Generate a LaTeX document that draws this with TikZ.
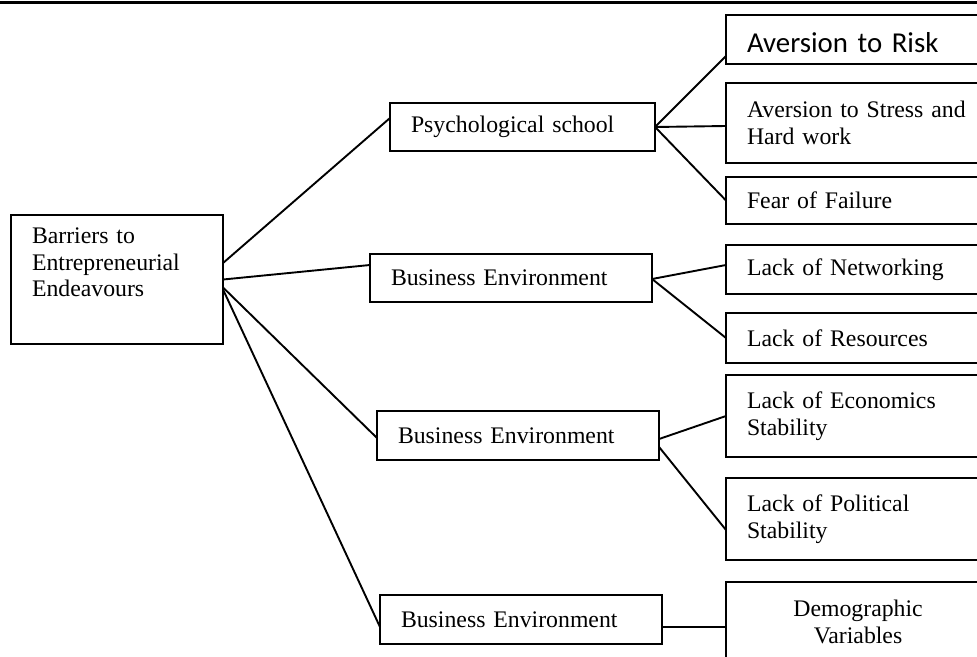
\documentclass[tikz,border=0pt]{standalone}
\usepackage{fontspec}
\setmainfont{Liberation Serif}
\newfontfamily\riskfont{Carlito}

\begin{document}
\begin{tikzpicture}[x=0.025cm, y=0.025cm, line width=1.35pt,
    box/.style={draw, rectangle, anchor=north west, align=left, inner xsep=0.525cm, inner ysep=0pt, outer sep=0pt, font=\fontsize{16.9pt}{19pt}\selectfont},
    leftbox/.style={box, text width=4.25cm},
    midbox/.style={box, text width=6cm, minimum height=1.2cm},
    rightbox/.style={box, text width=5.55cm}]

\clip (0,0) rectangle (977,656);
\draw[line width=2.1pt] (0,653.5) -- (977,653.5);

% root
\node[leftbox, minimum height=3.225cm] (barr) at (11,441) {Barriers to\\Entrepreneurial\\Endeavours\\\strut};

% second level
\node[midbox, text width=5.575cm] (psych) at (390,553) {Psychological school};
\node[midbox] (bizA) at (370,402) {Business Environment};
\node[midbox, minimum height=1.225cm] (bizB) at (377,245) {Business Environment};
\node[midbox, minimum height=1.225cm] (bizC) at (380,61) {Business Environment};

% third level
\node[rightbox, minimum height=1.225cm, text height=19pt, text depth=0pt, font=\riskfont\fontsize{20.5pt}{24pt}\selectfont] (risk) at (726,641) {Aversion to Risk};
\node[rightbox, minimum height=2cm] (stress) at (726,573) {Aversion to Stress and\\Hard work};
\node[rightbox, minimum height=1.175cm] (fear) at (726,479) {Fear of Failure};
\node[rightbox, minimum height=1.225cm] (netw) at (726,411) {Lack of Networking};
\node[rightbox, minimum height=1.25cm] (resrc) at (726,343) {Lack of Resources};
\node[rightbox, minimum height=2.05cm] (econ) at (726,281) {Lack of Economics\\Stability};
\node[rightbox, minimum height=2.05cm] (polit) at (726,178) {Lack of Political\\Stability};
\node[rightbox, minimum height=2cm, align=center] (demog) at (726,74) {Demographic\\Variables};

% root to second level
\draw ([shift={(0,16.5)}]barr.east) -- ([shift={(0,9)}]psych.west);
\draw ([shift={(0,0)}]barr.east) -- ([shift={(0,13)}]bizA.west);
\draw ([shift={(0,-8)}]barr.east) -- ([shift={(0,-2.5)}]bizB.west);
\draw ([shift={(0,-10)}]barr.east) -- ([shift={(0,-7.5)}]bizC.west);

% second to third level
\draw (psych.east) -- ([shift={(0,-16.5)}]risk.west);
\draw (psych.east) -- ([shift={(0,-3)}]stress.west);
\draw (psych.east) -- (fear.west);
\draw ([shift={(0,-1)}]bizA.east) -- ([shift={(0,4.5)}]netw.west);
\draw ([shift={(0,-1)}]bizA.east) -- (resrc.west);
\draw ([shift={(0,-3.5)}]bizB.east) -- (econ.west);
\draw ([shift={(0,-11.5)}]bizB.east) -- ([shift={(0,-11)}]polit.west);
\draw ([shift={(0,-7.5)}]bizC.east) -- ([shift={(0,-5)}]demog.west);

\end{tikzpicture}
\end{document}
